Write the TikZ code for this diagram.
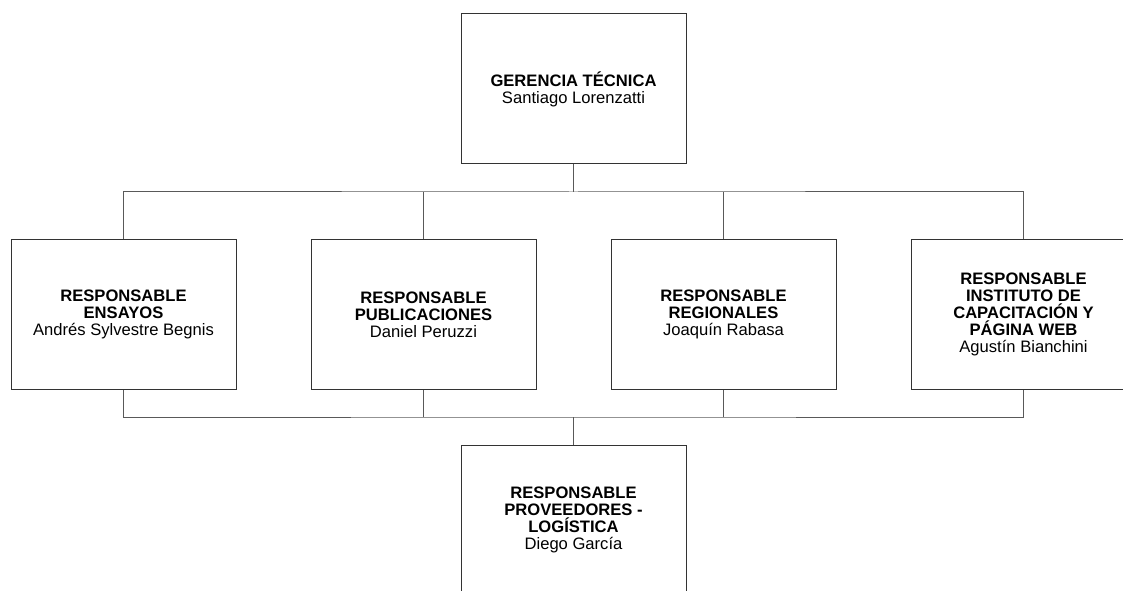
\documentclass[tikz,border=0pt]{standalone}
\usepackage{fontspec}
\setmainfont{Liberation Sans}
\begin{document}
\begin{tikzpicture}[x=1pt,y=1pt]
			\tikzstyle{every node}+=[inner sep=0pt]
			\tikzstyle{puesto}=[draw=black!80, line width=1pt, fill=white, minimum width=225pt, minimum height=150pt, align=center, font=\fontsize{16.6}{16.8}\selectfont]
			\tikzstyle{linea}=[draw=black!65, line width=1pt]
			\useasboundingbox (0,0) rectangle (1123,590);
			\node [puesto] (gt) at (573.5,501) {\textbf{GERENCIA TÉCNICA}\\Santiago Lorenzatti};
			\node [puesto] (ens) at (123.5,275.5) {\textbf{RESPONSABLE}\\\textbf{ENSAYOS}\\Andrés Sylvestre Begnis};
			\node [puesto] (pub) at (423.5,275.5) {\textbf{RESPONSABLE}\\\textbf{PUBLICACIONES}\\Daniel Peruzzi};
			\node [puesto] (reg) at (723.5,275.5) {\textbf{RESPONSABLE}\\\textbf{REGIONALES}\\Joaquín Rabasa};
			\node [puesto] (web) at (1023.5,275.5) {\textbf{RESPONSABLE}\\\textbf{INSTITUTO DE}\\\textbf{CAPACITACIÓN Y}\\\textbf{PÁGINA WEB}\\Agustín Bianchini};
			\node [puesto] (prov) at (573.5,70) {\textbf{RESPONSABLE}\\\textbf{PROVEEDORES -}\\\textbf{LOGÍSTICA}\\Diego García};
			\coordinate (arriba) at (573.5,398);
			\coordinate (abajo) at (573.5,173);
			% bus superior
			\draw [linea] (gt) -- (arriba);
			\draw [linea] (ens) |- (arriba) -| (web);
			\draw [linea] (pub) -- (pub |- arriba);
			\draw [linea] (reg) -- (reg |- arriba);
			% bus inferior
			\draw [linea] (ens) |- (abajo) -| (web);
			\draw [linea] (pub) -- (pub |- abajo);
			\draw [linea] (reg) -- (reg |- abajo);
			\draw [linea] (abajo) -- (prov);
		\end{tikzpicture}
\end{document}
